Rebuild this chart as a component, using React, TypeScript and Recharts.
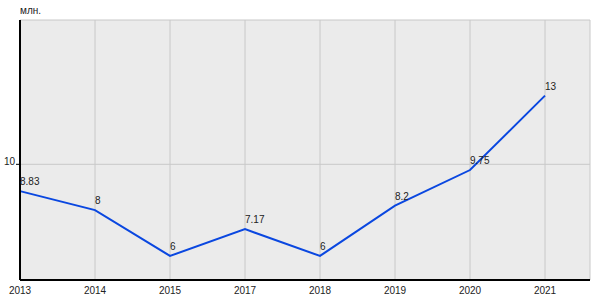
import React from "react";
import {
  LineChart,
  Line,
  XAxis,
  YAxis,
  CartesianGrid,
  LabelList,
} from "recharts";

const years = ["2013", "2014", "2015", "2017", "2018", "2019", "2020", "2021"];
const values = [8.83, 8, 6, 7.17, 6, 8.2, 9.75, 13];
const yTicks = [10];

const data = years.map((year, i) => ({ year, value: values[i] }));

const font = "Arial, 'Liberation Sans', sans-serif";

const PointLabel = (props: any) => {
  const { x, y, value } = props;
  return (
    <text x={x} y={y - 6} fontSize={10} fontFamily={font} fill="#222" textAnchor="start">
      {value}
    </text>
  );
};

const App: React.FC = () => {
  return (
    <div style={{ position: "absolute", left: 0, top: 0, width: 600, height: 300, background: "#fff" }}>
      <div
        style={{
          position: "absolute",
          left: 20,
          top: 5,
          fontSize: 10,
          fontFamily: font,
          color: "#222",
        }}
      >
        млн.
      </div>
      <LineChart
        width={600}
        height={300}
        data={data}
        margin={{ top: 20, right: 10, left: 0, bottom: 0 }}
      >
        <CartesianGrid fill="#ebebeb" stroke="#c8c8c8" strokeWidth={1} />
        <XAxis
          dataKey="year"
          padding={{ left: 0, right: 45 }}
          tickLine={false}
          axisLine={{ stroke: "#000", strokeWidth: 2 }}
          height={20}
          tick={{ fontSize: 10, fontFamily: font, fill: "#222" }}
          tickMargin={1}
        />
        <YAxis
          type="number"
          domain={[4.95, 16.3]}
          ticks={yTicks}
          width={20}
          tickSize={4}
          tickLine={{ stroke: "#000" }}
          axisLine={{ stroke: "#000", strokeWidth: 2 }}
          tick={{ fontSize: 10, fontFamily: font, fill: "#222", dy: -3 }}
          tickMargin={1}
        />
        <Line
          type="linear"
          dataKey="value"
          stroke="#0a47e0"
          strokeWidth={2}
          dot={false}
          isAnimationActive={false}
        >
          <LabelList dataKey="value" content={PointLabel} />
        </Line>
      </LineChart>
    </div>
  );
};

export default App;
